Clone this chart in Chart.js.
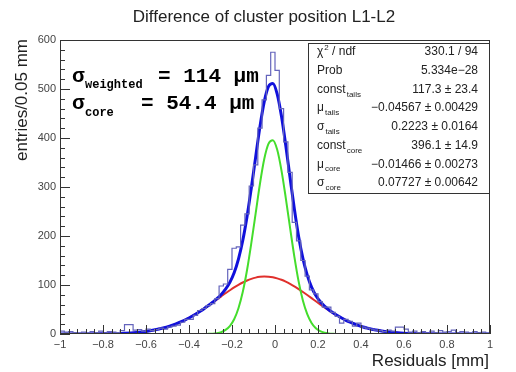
<!DOCTYPE html>
<html>
<head>
<meta charset="utf-8">
<script src="https://cdn.jsdelivr.net/npm/chart.js@4.4.1/dist/chart.umd.min.js"></script>
<style>
  html, body { margin: 0; padding: 0; background: #fff; }
  canvas { display: block; }
</style>
</head>
<body>
<canvas id="canvas" width="516" height="372"></canvas>
<script>
// histogram: 100 bins of 0.02 from -1 to 1
var binLow = -1, binWidth = 0.02;
var counts = [
  6, 4, 5, 3, 2, 4, 2, 5, 3, 6, 2, 5, 4, 3, 7, 19, 19, 8, 9, 6, 10, 7, 9, 12,
  10, 14, 16, 18, 24, 30, 30, 38, 48, 52, 58, 62, 72, 98, 102, 132, 175, 178, 222, 245, 302, 345, 420, 478, 528, 575,
  538, 460, 392, 330, 228, 190, 150, 118, 90, 82, 66, 55, 55, 44, 36, 22, 30, 26, 16, 22, 14, 12, 10, 8, 7,
  5, 8, 6, 14, 14, 10, 4, 6, 3, 5, 2, 6, 3, 7, 4, 5, 8, 3, 5, 4, 2, 5, 3, 4, 2
];

// fit curves
var curveX = [-1, -0.9, -0.8, -0.7, -0.6];
for (var i = 0; i <= 51; i++) curveX.push(+(-0.51 + 0.02 * i).toFixed(2));
curveX.push(0.6, 0.7, 0.8, 0.9, 1);

var fitTotal = [0, 0.1, 0.4, 1.5, 5.3,
  13.3, 15.9, 19.0, 22.5, 26.3, 30.6, 35.3, 40.4, 45.9, 51.7, 58.1, 64.8, 72.1, 80.7, 91.5, 105.4, 125.0, 152.9, 190.7, 239.8, 298.5, 361.0, 423.2, 474.3, 505.4, 511.2,
  490.0, 444.7, 384.9, 319.4, 255.3, 198.7, 153.7, 120.1, 95.8, 78.5, 66.2, 56.9, 49.5, 43.2, 37.7, 32.6, 28.0, 24.1, 20.4, 17.2, 14.4, 11.9, 9.7, 8.0, 6.5, 5.1,
  1.7, 0.4, 0.1, 0, 0];
var fitCore = [0, 0, 0, 0, 0,
  0, 0, 0, 0, 0, 0, 0, 0, 0, 0, 0.3, 0.7, 1.7, 3.9, 8.3, 16.2, 30.0, 52.6, 85.6, 130.6, 186.0, 246.0, 306.6, 357.0, 388.4, 395.4,
  376.4, 334.0, 278.0, 217.0, 158.0, 107.0, 68.0, 40.6, 22.6, 11.7, 5.7, 2.6, 1.1, 0.5, 0.2, 0, 0, 0, 0, 0, 0, 0, 0, 0, 0, 0,
  0, 0, 0, 0, 0];
var fitTails = [0, 0.1, 0.4, 1.5, 5.3,
  13.3, 15.9, 19.0, 22.5, 26.3, 30.6, 35.3, 40.4, 45.9, 51.7, 57.8, 64.1, 70.4, 76.8, 83.2, 89.2, 95.0, 100.3, 105.1, 109.2, 112.5, 115.0, 116.6, 117.3, 117.0, 115.8,
  113.6, 110.7, 106.9, 102.4, 97.3, 91.7, 85.7, 79.5, 73.2, 66.8, 60.5, 54.3, 48.4, 42.7, 37.5, 32.6, 28.0, 24.1, 20.4, 17.2, 14.4, 11.9, 9.7, 8.0, 6.5, 5.1,
  1.7, 0.4, 0.1, 0, 0];

var xTicks = [-1, -0.8, -0.6, -0.4, -0.2, 0, 0.2, 0.4, 0.6, 0.8, 1];
var yTicks = [0, 100, 200, 300, 400, 500, 600];

var statNames = [['\u03c7', '2', ' / ndf'], ['Prob'], ['const', 'tails'], ['\u03bc', 'tails'], ['\u03c3', 'tails'], ['const', 'core'], ['\u03bc', 'core'], ['\u03c3', 'core']];
var statValues = ['330.1 / 94', '5.334e\u221228', '117.3 \u00b1 23.4', '\u22120.04567 \u00b1 0.00429', '0.2223 \u00b1 0.0164', '396.1 \u00b1 14.9', '\u22120.01466 \u00b1 0.00273', '0.07727 \u00b1 0.00642'];

var histPoints = counts.map(function (c, k) { return { x: binLow + binWidth * k, y: c }; });
histPoints.push({ x: binLow + binWidth * counts.length, y: counts[counts.length - 1] });

function curve(vals) {
  return vals.map(function (v, k) { return { x: curveX[k], y: v }; });
}

var SANS = '"Liberation Sans", Arial, sans-serif';
var MONO = '"Liberation Mono", "Courier New", monospace';

function fmt(v) {
  var s = (v === 0 || Math.abs(v) === 1) ? String(Math.abs(v)) : Math.abs(v).toFixed(1);
  return v < 0 ? '\u2212' + s : s;
}

var rootFrame = {
  id: 'rootFrame',
  afterDraw: function (chart) {
    var ctx = chart.ctx, a = chart.chartArea, x = chart.scales.x, y = chart.scales.y;
    ctx.save();

    // frame
    ctx.strokeStyle = '#333';
    ctx.lineWidth = 1;
    ctx.strokeRect(Math.round(a.left) + 0.5, Math.round(a.top) + 0.5, Math.round(a.width) - 1, Math.round(a.height) - 1);

    // ticks
    ctx.beginPath();
    for (var i = 0; i <= 50; i++) {
      var px = Math.round(x.getPixelForValue(-1 + 0.04 * i)) + 0.5;
      var len = i % 5 === 0 ? 9 : 5;
      ctx.moveTo(px, a.bottom);
      ctx.lineTo(px, a.bottom - len);
    }
    for (var j = 0; j <= 30; j++) {
      var py = Math.round(y.getPixelForValue(20 * j)) + 0.5;
      var ylen = j % 5 === 0 ? 10 : 5;
      ctx.moveTo(a.left, py);
      ctx.lineTo(a.left + ylen, py);
    }
    ctx.stroke();

    // tick labels
    ctx.fillStyle = '#444';
    ctx.font = '11px ' + SANS;
    ctx.textAlign = 'center';
    ctx.textBaseline = 'top';
    xTicks.forEach(function (v) { ctx.fillText(fmt(v), x.getPixelForValue(v), a.bottom + 5); });
    ctx.textAlign = 'right';
    ctx.textBaseline = 'middle';
    yTicks.forEach(function (v) { ctx.fillText(String(v), a.left - 4, y.getPixelForValue(v)); });

    // title and axis titles
    ctx.fillStyle = '#222';
    ctx.font = '17px ' + SANS;
    ctx.textAlign = 'center';
    ctx.textBaseline = 'alphabetic';
    ctx.fillText('Difference of cluster position L1-L2', 264, 22);
    ctx.textAlign = 'right';
    ctx.fillText('Residuals [mm]', 489, 366);
    ctx.save();
    ctx.translate(27, a.top - 1);
    ctx.rotate(-Math.PI / 2);
    ctx.fillText('entries/0.05 mm', 0, 0);
    ctx.restore();

    // stats box
    var bx = 308, by = 43, bw = 181, bh = 150;
    ctx.fillStyle = '#fff';
    ctx.fillRect(bx, by, bw, bh);
    ctx.strokeStyle = '#333';
    ctx.strokeRect(bx + 0.5, by + 0.5, bw, bh);
    ctx.fillStyle = '#222';
    ctx.textBaseline = 'middle';
    statNames.forEach(function (n, k) {
      var ty = 52 + k * 18.7;
      ctx.textAlign = 'left';
      ctx.font = '12px ' + SANS;
      ctx.fillText(n[0], 317, ty);
      var w = ctx.measureText(n[0]).width;
      if (n[1]) {
        ctx.font = '8px ' + SANS;
        if (n[2]) {
          ctx.fillText(n[1], 317 + w + 1, ty - 4);
          var w2 = ctx.measureText(n[1]).width;
          ctx.font = '12px ' + SANS;
          ctx.fillText(n[2], 317 + w + w2 + 1, ty);
        } else {
          ctx.fillText(n[1], 317 + w + 1, ty + 5);
        }
      }
      ctx.textAlign = 'right';
      ctx.font = '12px ' + SANS;
      ctx.fillText(statValues[k], 478, ty);
    });

    // sigma annotations
    ctx.fillStyle = '#000';
    ctx.textAlign = 'left';
    ctx.textBaseline = 'alphabetic';
    ctx.font = 'bold 21px ' + MONO;
    ctx.fillText('\u03c3', 72, 82);
    ctx.fillText('= 114 \u03bcm', 158, 82);
    ctx.fillText('\u03c3', 72, 109);
    ctx.fillText('= 54.4 \u03bcm', 141, 109);
    ctx.font = 'bold 12px ' + MONO;
    ctx.fillText('weighted', 85, 88);
    ctx.fillText('core', 85, 116);

    ctx.restore();
  }
};

new Chart(document.getElementById('canvas').getContext('2d'), {
  type: 'line',
  data: {
    datasets: [
      { data: histPoints, stepped: 'before', borderColor: '#6464bc', borderWidth: 1.2, pointRadius: 0, fill: false },
      { data: curve(fitTotal), borderColor: '#1010dc', borderWidth: 3, pointRadius: 0, cubicInterpolationMode: 'monotone' },
      { data: curve(fitCore), borderColor: '#44dd2c', borderWidth: 2, pointRadius: 0, cubicInterpolationMode: 'monotone' },
      { data: curve(fitTails), borderColor: '#e0302c', borderWidth: 2, pointRadius: 0, cubicInterpolationMode: 'monotone' }
    ]
  },
  options: {
    responsive: false,
    animation: false,
    layout: { padding: { left: 60, right: 26, top: 40, bottom: 38 } },
    plugins: { legend: { display: false }, tooltip: { enabled: false } },
    scales: {
      x: { type: 'linear', min: -1, max: 1, display: false },
      y: { min: 0, max: 600, display: false }
    }
  },
  plugins: [rootFrame]
});
</script>
</body>
</html>
